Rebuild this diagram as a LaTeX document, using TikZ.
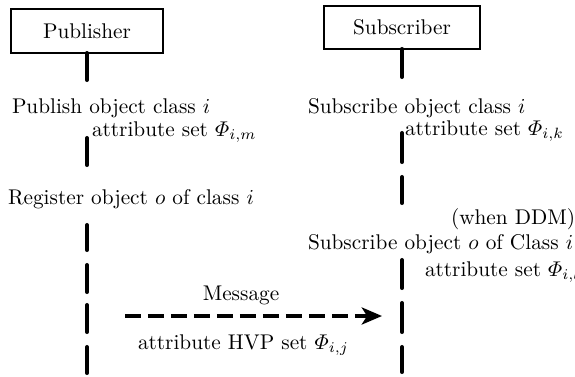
\documentclass[tikz,border=0pt]{standalone}
\usepackage{amsmath}
\usetikzlibrary{arrows.meta}
\begin{document}
\begin{tikzpicture}[x=0.47pt,y=-0.47pt,
  actor/.style={draw,line width=0.9pt,inner sep=0pt,outer sep=0pt},
  life/.style={line width=1.9pt,line cap=round},
  lbl/.style={anchor=base west,inner sep=0pt,outer sep=0pt},
  msg/.style={line width=2.3pt,dash pattern=on 7.5pt off 3.3pt,-{Stealth[length=9.5pt,width=8pt,inset=2.5pt]}}]
\useasboundingbox (0,0) rectangle (575,376);
\node[actor,minimum width=71.4pt,minimum height=20.7pt] (pub) at (87,31) {Publisher};
\node[actor,minimum width=73.3pt,minimum height=20.2pt] (sub) at (402,27.5) {Subscriber};
% publisher lifeline
\coordinate (p1) at (87,80);
\draw[life] (pub.south) -- (p1);
\foreach \a/\b in {138/165,225/250,265/292,305/332,347/373}
  \draw[life] (87,\a) -- (87,\b);
% subscriber lifeline
\coordinate (s1) at (402,77);
\draw[life] (sub.south) -- (s1);
\foreach \a/\b in {133/162,177/203,260/288,303/332,347/372}
  \draw[life] (402,\a) -- (402,\b);
% labels
\node[lbl] (t1) at (12,113) {Publish object class $i$};
\node[lbl] (t2) at (92,136) {attribute set $\varPhi_{i,m}$};
\node[lbl] (t3) at (308,113) {Subscribe object class $i$};
\node[lbl] (t4) at (405,135) {attribute set $\varPhi_{i,k}$};
\node[lbl] (t5) at (8,204) {Register object $o$ of class $i$};
\node[lbl] (t6) at (451,224) {(when DDM)};
\node[lbl] (t7) at (308,249) {Subscribe object $o$ of Class $i$};
\node[lbl] (t8) at (425,276) {attribute set $\varPhi_{i,l}$};
\node[anchor=base,inner sep=0pt] (t9) at (241,300) {Message};
\node[lbl] (t10) at (138,349) {attribute HVP set $\varPhi_{i,j}$};
% message
\coordinate (m1) at (125,316);
\coordinate (m2) at (382,316);
\draw[msg] (m1) -- (m2);
\end{tikzpicture}
\end{document}
